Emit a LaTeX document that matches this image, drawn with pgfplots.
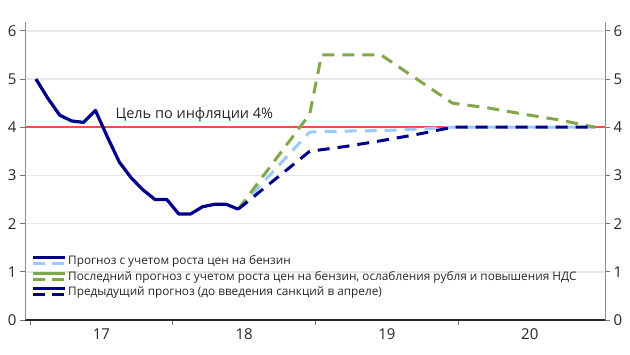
\documentclass[border=0pt]{standalone}
\usepackage{pgfplots}
\pgfplotsset{compat=1.18}
\usepackage{fontspec}
\setmainfont{Open Sans}
\definecolor{navy}{HTML}{00008C}
\definecolor{lblue}{HTML}{9CCBFA}
\definecolor{tgreen}{HTML}{80A84A}
\definecolor{redl}{HTML}{FF4B4B}
\definecolor{gridc}{HTML}{E6E6E6}
\definecolor{txt}{HTML}{262626}
\begin{document}
\begin{tikzpicture}
\useasboundingbox (0,0) rectangle (630pt,355pt);
\begin{axis}[
  at={(25pt,35pt)}, anchor=south west, scale only axis,
  width=580pt, height=298.3pt,
  xmin=-0.42, xmax=48.32, ymin=0, ymax=6.19,
  axis x line*=bottom, axis y line*=left,
  x axis line style={-, draw=black!85, line width=1.2pt},
  y axis line style={-, draw=black!45, line width=0.8pt},
  ytick={0,1,2,3,4,5,6},
  ymajorgrids, grid style={gridc, line width=1.5pt},
  xtick={0,12,24,36}, xticklabels={17,18,19,20},
  xticklabel style={xshift=71.35pt, font=\fontsize{15}{17}\selectfont, text=txt},
  yticklabel style={font=\fontsize{15}{17}\selectfont, text=txt},
  /pgf/number format/assume math mode=true,
  tick align=outside, major tick length=5pt,
  tick style={black!55, line width=0.8pt},
  legend cell align=left,
  legend style={at={(0.006,0.228)}, anchor=north west, draw=none, fill=none,
    font=\fontsize{11.8}{14}\selectfont, text=txt, row sep=2pt,
    nodes={inner sep=1.5pt}},
  clip=false,
]
\addplot[redl, line width=1.5pt, forget plot] coordinates {(-0.42,4) (48.32,4)};
\addplot[lblue, line width=3pt, dash pattern=on 12pt off 8pt,
  legend image code/.code={
    \draw[navy, solid, line width=3pt] (0pt,3pt) -- (32pt,3pt);
    \draw[lblue, line width=3pt, dash pattern=on 12pt off 7pt] (0pt,-3pt) -- (32pt,-3pt);}]
  coordinates {(17.5,2.3) (23.5,3.9) (26.5,3.92) (29.5,3.93) (32.5,3.96) (35.5,4.0) (38.5,4.0) (41.5,4.0) (44.5,4.0) (47.5,4.0)};
\addlegendentry{Прогноз с учетом роста цен на бензин}
\addplot[tgreen, line width=3pt, dash pattern=on 12pt off 8pt,
  legend image code/.code={
    \draw[tgreen, solid, line width=3pt] (0pt,3pt) -- (32pt,3pt);
    \draw[tgreen, line width=3pt, dash pattern=on 12pt off 7pt] (0pt,-3pt) -- (32pt,-3pt);}]
  coordinates {(17.5,2.3) (23.5,4.27) (24.5,5.5) (29.5,5.5) (32.5,5.0) (35.5,4.5) (38.5,4.4) (41.5,4.27) (44.5,4.15) (47.5,4.0)};
\addlegendentry{Последний прогноз с учетом роста цен на бензин, ослабления рубля и повышения НДС}
\addplot[navy, line width=3pt, dash pattern=on 12pt off 8pt,
  legend image code/.code={
    \draw[navy, solid, line width=3pt] (0pt,3pt) -- (32pt,3pt);
    \draw[navy, line width=3pt, dash pattern=on 12pt off 7pt] (0pt,-3pt) -- (32pt,-3pt);}]
  coordinates {(17.5,2.3) (23.5,3.5) (26.5,3.6) (29.5,3.72) (32.5,3.85) (35.5,4.0) (38.5,4.0) (41.5,4.0) (44.5,4.0) (47.5,4.0)};
\addlegendentry{Предыдущий прогноз (до введения санкций в апреле)}
\addplot[navy, line width=3.2pt, line join=round, forget plot] coordinates {
  (0.5,5.0) (1.5,4.6) (2.5,4.25) (3.5,4.13) (4.5,4.1) (5.5,4.35) (6.5,3.8)
  (7.5,3.28) (8.5,2.95) (9.5,2.7) (10.5,2.5) (11.5,2.5) (12.5,2.2) (13.5,2.2)
  (14.5,2.35) (15.5,2.4) (16.5,2.4) (17.5,2.3)};
\node[anchor=base west, font=\fontsize{14.5}{16}\selectfont, text=txt] at (axis cs:6.9,4.19) {Цель по инфляции 4\%};
\end{axis}
\begin{axis}[
  at={(25pt,35pt)}, anchor=south west, scale only axis,
  width=580pt, height=298.3pt,
  xmin=-0.42, xmax=48.32, ymin=0, ymax=6.19,
  axis y line*=right, axis x line=none,
  y axis line style={-, draw=black!45, line width=0.8pt},
  ytick={0,1,2,3,4,5,6},
  yticklabel style={font=\fontsize{15}{17}\selectfont, text=txt},
  /pgf/number format/assume math mode=true,
  tick align=outside, major tick length=5pt,
  tick style={black!55, line width=0.8pt},
]
\addplot[draw=none] coordinates {(0,0)};
\end{axis}
\end{tikzpicture}
\end{document}
